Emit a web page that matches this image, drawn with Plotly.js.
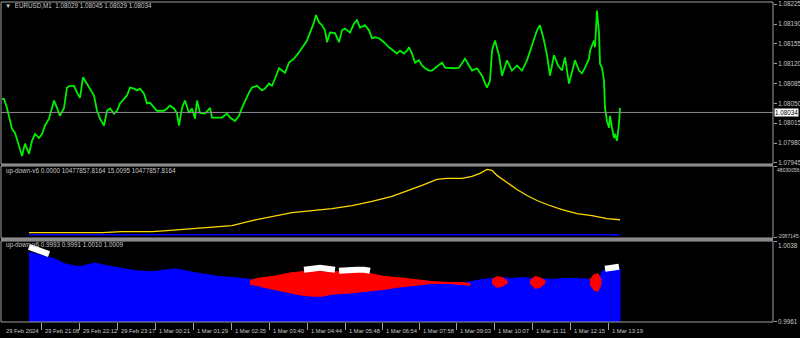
<!DOCTYPE html>
<html><head><meta charset="utf-8">
<script src="https://cdn.plot.ly/plotly-3.0.1.min.js"></script>
<style>html,body{margin:0;padding:0;background:#000;}#chart{width:800px;height:338px;}</style>
</head><body><div id="chart"></div>
<script>
// ---------- DATA ----------
const priceX = [0,2,5,7,10,13,17,20,23,27,30,33,37,40,43,47,50,52,55,58,62,65,68,72,75,78,81,85,88,92,95,98,102,105,108,112,115,118,122,125,128,132,135,138,142,145,148,152,155,158,162,165,168,172,175,177,180,183,187,190,193,195,198,203,208,210,215,220,225,228,233,237,240,243,247,250,255,260,263,267,270,273,277,280,283,287,292,297,302,305,308,312,314,317,320,323,325,328,333,337,340,343,348,352,355,358,363,367,370,373,377,382,387,392,395,398,402,405,407,410,413,417,420,423,427,430,433,437,440,443,448,453,457,460,463,467,470,475,480,485,488,490,493,497,500,505,510,515,520,525,530,535,538,542,545,548,552,556,560,563,567,570,573,577,580,583,587,588,592,593,595,597,598,600,602,603,605,607,608,610,612,613,615,617,618];
const priceY = [1.08058,1.08058,1.08042,1.08025,1.08005,1.07998,1.07972,1.07957,1.07979,1.07961,1.07984,1.07996,1.07989,1.07996,1.08011,1.08023,1.08042,1.08055,1.08042,1.08028,1.08042,1.08078,1.08081,1.08081,1.08069,1.08060,1.08096,1.08085,1.08076,1.08064,1.08037,1.08023,1.08011,1.08037,1.08041,1.08032,1.08037,1.08050,1.08058,1.08064,1.08078,1.08076,1.08073,1.08076,1.08067,1.08050,1.08051,1.08042,1.08037,1.08037,1.08037,1.08041,1.08046,1.08041,1.08032,1.08011,1.08042,1.08055,1.08033,1.08041,1.08023,1.08055,1.08033,1.08032,1.08042,1.08025,1.08025,1.08025,1.08032,1.08025,1.08019,1.08028,1.08042,1.08055,1.08069,1.08078,1.08081,1.08073,1.08076,1.08085,1.08081,1.08094,1.08112,1.08108,1.08104,1.08122,1.08129,1.08140,1.08152,1.08161,1.08175,1.08193,1.08206,1.08193,1.08188,1.08179,1.08158,1.08175,1.08174,1.08158,1.08179,1.08182,1.08175,1.08191,1.08197,1.08184,1.08188,1.08179,1.08165,1.08167,1.08165,1.08158,1.08149,1.08143,1.08138,1.08143,1.08138,1.08143,1.08149,1.08138,1.08122,1.08126,1.08117,1.08112,1.08108,1.08108,1.08112,1.08117,1.08122,1.08113,1.08112,1.08112,1.08113,1.08122,1.08129,1.08117,1.08108,1.08112,1.08099,1.08078,1.08090,1.08143,1.08161,1.08135,1.08099,1.08126,1.08108,1.08117,1.08108,1.08126,1.08152,1.08179,1.08188,1.08161,1.08135,1.08099,1.08135,1.08117,1.08108,1.08131,1.08085,1.08108,1.08126,1.08108,1.08103,1.08113,1.08129,1.08143,1.08161,1.08149,1.08214,1.08174,1.08120,1.08113,1.08090,1.08042,1.08019,1.08007,1.08028,1.08007,1.07989,1.07996,1.07984,1.08014,1.08042];
const currentPrice = 1.08034;
const priceTicks = [1.07945,1.07980,1.08015,1.08050,1.08085,1.08120,1.08155,1.08190,1.08225];

const yellowX = [27,60,100,120,150,165,180,200,230,250,270,290,310,330,350,370,390,410,420,435,445,460,470,478,485,490,495,505,515,525,535,545,560,575,590,605,618];
const yellowY = [1440000,1440000,1440000,2150000,2150000,2850000,3560000,4970000,6380000,9910000,12740000,15560000,16970000,18380000,20500000,23330000,26850000,31800000,34620000,38850000,39560000,39560000,40970000,43090000,45910000,45210000,41680000,36740000,31800000,27560000,24030000,21210000,17680000,14850000,13440000,11320000,10477857.8164];
const zeroX = [27,618];
const zeroY = [0,0];
const midMin = -2087145.0, midMax = 48030056.0;
const midScaleText = ["48030056.", "-2087145."]; // as shown (clipped) on the terminal scale

const blueX = [27,35,48,53,63,77,93,100,117,133,150,173,193,217,233,247,270,300,330,360,400,430,463,470,480,490,500,510,520,530,540,550,563,575,590,598,600,603,610,618];
const blueY = [1.00277,1.00258,1.00220,1.00211,1.00164,1.00136,1.00173,1.00155,1.00126,1.00098,1.00089,1.00117,1.00080,1.00042,1.00033,1.00014,0.99986,0.99976,0.99986,0.99995,0.99986,0.99986,0.99986,0.99995,1.00014,1.00023,1.00033,1.00023,1.00033,1.00023,1.00023,1.00014,1.00023,1.00023,1.00014,1.00023,1.00089,1.00108,1.00108,1.00117];
const redX    = [248,255,262,270,280,290,300,310,320,330,345,363,375,383,395,410,420,430,445,460,468,null,490,495,500,505,null,528,533,538,543,null,588,592,596,599];
const redHigh = [1.00004,1.00023,1.00033,1.00042,1.00061,1.00080,1.00089,1.00098,1.00089,1.00089,1.00089,1.00080,1.00061,1.00042,1.00033,1.00014,1.00004,0.99995,0.99986,0.99986,0.99976,null,1.00014,1.00042,1.00033,1.00004,null,1.00004,1.00042,1.00033,1.00004,null,1.00014,1.00061,1.00070,1.00014];
const redLow  = [0.99967,0.99957,0.99939,0.99920,0.99901,0.99882,0.99864,0.99854,0.99854,0.99873,0.99882,0.99901,0.99911,0.99920,0.99939,0.99957,0.99967,0.99976,0.99976,0.99967,0.99957,null,0.99976,0.99939,0.99948,0.99976,null,0.99976,0.99929,0.99939,0.99976,null,0.99967,0.99911,0.99901,0.99967];
const whiteX = [27,35,42,47,null,302,310,318,325,333,null,337,345,355,362,368,null,603,610,617];
const whiteY = [1.00328,1.00305,1.00281,1.00258,null,1.00108,1.00117,1.00126,1.00117,1.00108,null,1.00098,1.00108,1.00108,1.00108,1.00098,null,1.00117,1.00126,1.00136];
const lowMin = 0.9961, lowMax = 1.0038;

const timeTickPos = [0,39,77,115,153,191,229,267,305,343,380,417,454,492,530,568,606];
const timeLabels = ["29 Feb 2024","29 Feb 21:08","29 Feb 22:12","29 Feb 23:17","1 Mar 00:21","1 Mar 01:29","1 Mar 02:35","1 Mar 03:40","1 Mar 04:44","1 Mar 05:48","1 Mar 06:54","1 Mar 07:58","1 Mar 09:03","1 Mar 10:07","1 Mar 11:11","1 Mar 12:15","1 Mar 13:19"];

const mainTitle = "▼  EURUSD,M1  1.08029 1.08045 1.08029 1.08034";
const midTitle = "up-down-v6 0.0000 10477857.8164 15.0095 10477857.8164";
const lowTitle = "up-down-v6 0.9993 0.9991 1.0010 1.0009";

// ---------- BUILD ----------
const FONT = "Liberation Sans, Arial, sans-serif";
const TXT = "#c8c8c8";
const GRID = "#a0a0a0";

function segments(xs, a, b) {
  const out = []; let cur = null;
  for (let i = 0; i < xs.length; i++) {
    if (xs[i] === null) { if (cur) out.push(cur); cur = null; continue; }
    if (!cur) cur = {x: [], hi: [], lo: []};
    cur.x.push(xs[i]); cur.hi.push(a[i]); cur.lo.push(b[i]);
  }
  if (cur) out.push(cur);
  return out;
}
const traces = [];
traces.push({x: priceX, y: priceY, type: 'scatter', mode: 'lines', line: {color: '#00f000', width: 1.8}, xaxis: 'x', yaxis: 'y', hoverinfo: 'skip'});
traces.push({x: zeroX, y: zeroY, type: 'scatter', mode: 'lines', line: {color: '#0000ff', width: 1.6}, xaxis: 'x', yaxis: 'y2', hoverinfo: 'skip'});
traces.push({x: yellowX, y: yellowY, type: 'scatter', mode: 'lines', line: {color: '#ffd700', width: 1.3}, xaxis: 'x', yaxis: 'y2', hoverinfo: 'skip'});
const bx = blueX.concat([blueX[blueX.length-1], blueX[0]]);
const by = blueY.concat([lowMin, lowMin]);
traces.push({x: bx, y: by, type: 'scatter', mode: 'lines', fill: 'toself', fillcolor: '#0000ff', line: {color: '#0000ff', width: 1}, xaxis: 'x', yaxis: 'y3', hoverinfo: 'skip'});
segments(redX, redHigh, redLow).forEach(s => {
  traces.push({x: s.x.concat(s.x.slice().reverse()), y: s.hi.concat(s.lo.slice().reverse()), type: 'scatter', mode: 'lines', fill: 'toself', fillcolor: '#ff0000', line: {color: '#ff0000', width: 1}, xaxis: 'x', yaxis: 'y3', hoverinfo: 'skip'});
});
traces.push({x: whiteX, y: whiteY, type: 'scatter', mode: 'lines', connectgaps: false, line: {color: '#ffffff', width: 6}, xaxis: 'x', yaxis: 'y3', hoverinfo: 'skip'});

const H = 338, T = 2, B = 16, PH = H - T - B;
const py = p => (H - B - p) / PH;
const px = p => (p - 1) / 772;

const dMain = [py(164), 1], dMid = [py(238), py(166)], dLow = [0, py(241)];

const lbl = {family: FONT, size: 6.3, color: TXT};
const small = {family: FONT, size: 5.1, color: TXT};
const annotations = [
  {text: mainTitle, xref: 'paper', yref: 'paper', x: px(3), y: py(6), xanchor: 'left', yanchor: 'middle', showarrow: false, font: lbl},
  {text: midTitle, xref: 'paper', yref: 'paper', x: px(4), y: py(171), xanchor: 'left', yanchor: 'middle', showarrow: false, font: lbl},
  {text: lowTitle, xref: 'paper', yref: 'paper', x: px(4), y: py(245), xanchor: 'left', yanchor: 'middle', showarrow: false, font: lbl},
  {text: currentPrice.toFixed(5), xref: 'paper', yref: 'y', x: 1, y: currentPrice, xanchor: 'left', yanchor: 'middle', xshift: 1, showarrow: false, bgcolor: '#ffffff', borderpad: 0, font: {family: FONT, size: 6.3, color: '#000000'}},
  {text: midScaleText[0], xref: 'paper', yref: 'paper', x: 1, xshift: 2, y: py(169.5), xanchor: 'left', yanchor: 'middle', showarrow: false, font: small},
  {text: midScaleText[1], xref: 'paper', yref: 'paper', x: 1, xshift: 2, y: py(235.5), xanchor: 'left', yanchor: 'middle', showarrow: false, font: small},
  {text: lowMax.toFixed(4), xref: 'paper', yref: 'paper', x: 1, xshift: 3, y: py(245), xanchor: 'left', yanchor: 'middle', showarrow: false, font: lbl},
  {text: lowMin.toFixed(4), xref: 'paper', yref: 'paper', x: 1, xshift: 3, y: py(321.5), xanchor: 'left', yanchor: 'middle', showarrow: false, font: lbl}
];
timeTickPos.forEach((p, i) => annotations.push({text: timeLabels[i], xref: 'x', yref: 'paper', x: p, xshift: 2, y: py(331), xanchor: 'left', yanchor: 'middle', showarrow: false, font: {family: FONT, size: 5.8, color: TXT}}));

const shapes = [
  {type: 'rect', xref: 'paper', yref: 'paper', x0: 0, x1: 1, y0: dMain[0], y1: dMain[1], line: {color: GRID, width: 1}},
  {type: 'rect', xref: 'paper', yref: 'paper', x0: 0, x1: 1, y0: dMid[0], y1: dMid[1], line: {color: GRID, width: 1}},
  {type: 'rect', xref: 'paper', yref: 'paper', x0: 0, x1: 1, y0: dLow[0], y1: dLow[1], line: {color: GRID, width: 1}},
  {type: 'rect', xref: 'paper', yref: 'paper', x0: 0, x1: 1, y0: dMid[1], y1: dMain[0], fillcolor: '#8a8a8a', line: {width: 0}},
  {type: 'rect', xref: 'paper', yref: 'paper', x0: 0, x1: 1, y0: dLow[1], y1: dMid[0], fillcolor: '#8a8a8a', line: {width: 0}},
  {type: 'line', xref: 'paper', yref: 'y', x0: 0, x1: 1, y0: currentPrice, y1: currentPrice, line: {color: '#8c8c8c', width: 1}}
];

const yCommon = {side: 'right', showgrid: false, zeroline: false, ticks: 'outside', ticklen: 3, tickcolor: GRID, showline: false, tickfont: lbl, fixedrange: true};

const layout = {
  width: 800, height: 338,
  margin: {l: 1, r: 27, t: T, b: B, pad: 0},
  paper_bgcolor: '#000000', plot_bgcolor: '#000000',
  showlegend: false,
  xaxis: {range: [-1, 771], anchor: 'y3', showgrid: false, zeroline: false, showline: false, tickmode: 'array', tickvals: timeTickPos.slice(1), ticks: 'outside', ticklen: 7, tickcolor: GRID, showticklabels: false},
  yaxis: Object.assign({}, yCommon, {domain: dMain, range: [1.07943, 1.08229], tickmode: 'array', tickvals: priceTicks, ticktext: priceTicks.map(v => v.toFixed(5)), anchor: 'x'}),
  yaxis2: Object.assign({}, yCommon, {domain: dMid, range: [midMin - 250000, midMax + 250000], tickmode: 'array', tickvals: [midMin, midMax], showticklabels: false, anchor: 'x'}),
  yaxis3: Object.assign({}, yCommon, {domain: dLow, range: [lowMin - 0.00004, lowMax + 0.00004], tickmode: 'array', tickvals: [lowMin, lowMax], showticklabels: false, anchor: 'x'}),
  annotations: annotations,
  shapes: shapes
};
Plotly.newPlot('chart', traces, layout, {staticPlot: true, displayModeBar: false});
</script></body></html>
